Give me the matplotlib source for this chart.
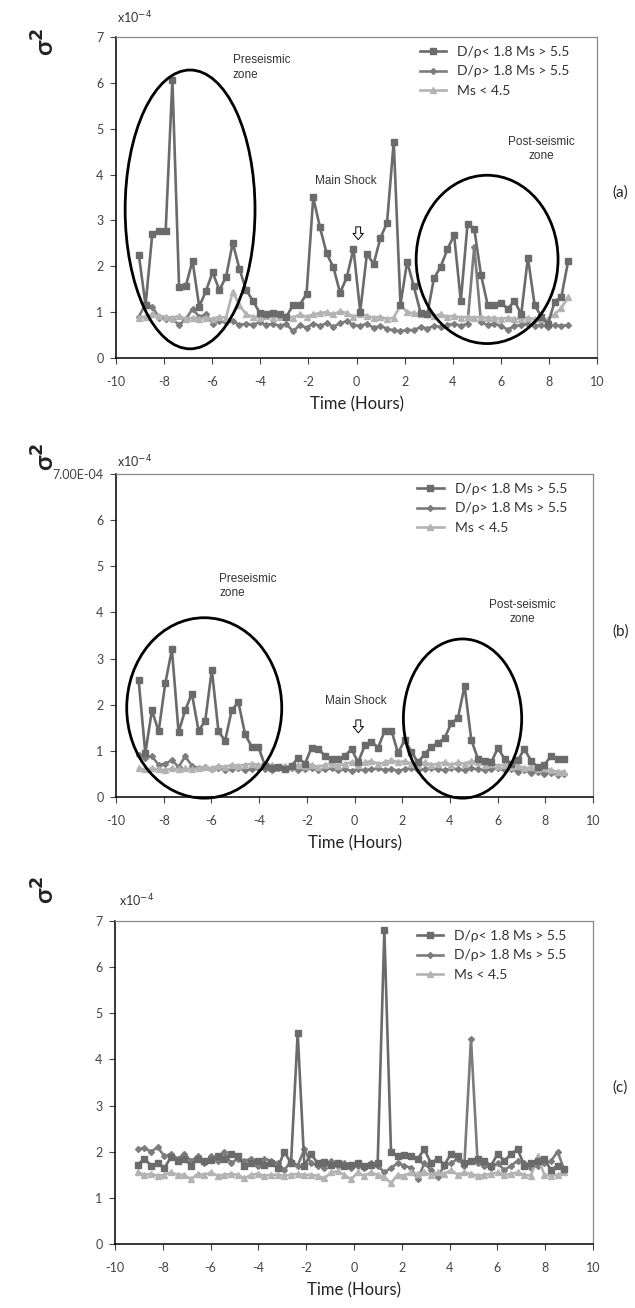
import numpy as np
import matplotlib
matplotlib.use("Agg")
import matplotlib.pyplot as plt
from matplotlib.patches import Ellipse

plt.rcParams['font.family'] = ['Lato', 'DejaVu Sans']
plt.rcParams['axes.unicode_minus'] = False

# time grid (hours relative to main shock)
hours = np.linspace(-9.05, 8.8, 65)

labels = ["D/\u03c1< 1.8 Ms > 5.5", "D/\u03c1> 1.8 Ms > 5.5", "Ms < 4.5"]

# panel (a), values in units of 1e-4
a_low = [2.25, 1.15, 2.70, 2.78, 2.78, 6.06, 1.54, 1.57, 2.12, 1.12, 1.46, 1.87, 1.48,
         1.77, 2.51, 1.94, 1.48, 1.25, 0.99, 0.96, 0.99, 0.95, 0.90, 1.16, 1.16, 1.40,
         3.50, 2.85, 2.28, 1.98, 1.42, 1.76, 2.38, 1.01, 2.27, 2.05, 2.61, 2.95, 4.72,
         1.16, 2.10, 1.56, 0.99, 0.95, 1.74, 1.99, 2.37, 2.68, 1.24, 2.92, 2.82, 1.82,
         1.16, 1.16, 1.21, 1.07, 1.25, 0.95, 2.19, 1.16, 0.90, 0.75, 1.23, 1.34, 2.11]
a_high = [0.90, 1.18, 1.12, 0.88, 0.86, 0.85, 0.72, 0.85, 1.07, 0.90, 0.95, 0.75, 0.80,
          0.78, 0.80, 0.72, 0.75, 0.72, 0.78, 0.72, 0.75, 0.70, 0.74, 0.58, 0.72, 0.66,
          0.75, 0.70, 0.76, 0.68, 0.76, 0.80, 0.72, 0.70, 0.75, 0.66, 0.70, 0.64, 0.60,
          0.58, 0.62, 0.60, 0.68, 0.64, 0.70, 0.68, 0.72, 0.75, 0.70, 0.75, 2.43, 0.78,
          0.72, 0.75, 0.70, 0.62, 0.70, 0.72, 0.75, 0.70, 0.72, 0.68, 0.72, 0.70, 0.72]
a_small = [0.88, 0.90, 0.95, 0.92, 0.90, 0.88, 0.92, 0.85, 0.88, 0.85, 0.88, 0.85, 0.90,
           0.88, 1.45, 1.15, 0.95, 0.90, 0.88, 0.92, 0.88, 0.90, 0.92, 0.88, 0.95, 0.90,
           0.95, 0.98, 1.00, 0.95, 1.02, 0.98, 0.90, 0.95, 0.92, 0.88, 0.90, 0.85, 0.88,
           1.15, 1.00, 0.98, 0.95, 0.95, 0.92, 0.95, 0.90, 0.92, 0.88, 0.90, 0.88, 0.90,
           0.87, 0.88, 0.85, 0.88, 0.86, 0.85, 0.88, 0.85, 0.84, 0.85, 0.95, 1.10, 1.32]

# panel (b)
b_low = [2.53, 0.95, 1.88, 1.42, 2.46, 3.20, 1.41, 1.88, 2.24, 1.44, 1.64, 2.76, 1.42,
         1.22, 1.89, 2.05, 1.36, 1.09, 1.08, 0.68, 0.62, 0.65, 0.60, 0.68, 0.85, 0.72,
         1.07, 1.05, 0.89, 0.83, 0.82, 0.89, 1.04, 0.75, 1.12, 1.20, 1.07, 1.44, 1.44,
         0.95, 1.24, 0.98, 0.75, 0.93, 1.09, 1.17, 1.28, 1.60, 1.71, 2.41, 1.24, 0.83,
         0.78, 0.75, 1.06, 0.83, 0.72, 0.80, 1.04, 0.78, 0.65, 0.70, 0.89, 0.83, 0.82]
b_high = [0.90, 0.85, 0.88, 0.70, 0.72, 0.80, 0.65, 0.88, 0.68, 0.62, 0.65, 0.60, 0.62,
          0.58, 0.60, 0.62, 0.58, 0.60, 0.62, 0.60, 0.58, 0.62, 0.60, 0.62, 0.58, 0.60,
          0.62, 0.58, 0.60, 0.62, 0.58, 0.60, 0.57, 0.60, 0.58, 0.60, 0.62, 0.58, 0.60,
          0.57, 0.60, 0.62, 0.58, 0.60, 0.62, 0.60, 0.58, 0.62, 0.60, 0.58, 0.62, 0.60,
          0.58, 0.60, 0.62, 0.58, 0.60, 0.55, 0.58, 0.52, 0.55, 0.50, 0.52, 0.48, 0.50]
b_small = [0.62, 0.60, 0.62, 0.60, 0.58, 0.62, 0.60, 0.62, 0.60, 0.62, 0.65, 0.62, 0.68,
           0.65, 0.70, 0.68, 0.70, 0.72, 0.70, 0.68, 0.70, 0.65, 0.68, 0.65, 0.70, 0.68,
           0.70, 0.65, 0.70, 0.72, 0.68, 0.72, 0.75, 0.70, 0.75, 0.78, 0.72, 0.75, 0.80,
           0.75, 0.78, 0.72, 0.70, 0.75, 0.70, 0.72, 0.75, 0.70, 0.75, 0.72, 0.78, 0.75,
           0.70, 0.72, 0.68, 0.70, 0.65, 0.68, 0.62, 0.65, 0.60, 0.62, 0.58, 0.55, 0.55]

# panel (c)
c_low = [1.72, 1.85, 1.70, 1.75, 1.65, 1.88, 1.80, 1.85, 1.70, 1.85, 1.80, 1.82, 1.90,
         1.85, 1.95, 1.90, 1.70, 1.75, 1.80, 1.72, 1.75, 1.65, 2.00, 1.75, 4.58, 1.70,
         1.95, 1.75, 1.78, 1.72, 1.75, 1.70, 1.72, 1.75, 1.70, 1.72, 1.75, 6.80, 2.00,
         1.90, 1.92, 1.90, 1.85, 2.05, 1.75, 1.85, 1.72, 1.95, 1.90, 1.75, 1.80, 1.85,
         1.80, 1.70, 1.95, 1.80, 1.95, 2.05, 1.70, 1.75, 1.80, 1.85, 1.60, 1.70, 1.62]
c_high = [2.05, 2.08, 2.00, 2.10, 1.90, 1.95, 1.85, 1.95, 1.80, 1.90, 1.75, 1.90, 1.80,
          2.00, 1.75, 1.85, 1.80, 1.85, 1.70, 1.85, 1.80, 1.75, 1.60, 1.80, 1.70, 2.05,
          1.75, 1.70, 1.65, 1.80, 1.70, 1.75, 1.65, 1.70, 1.65, 1.75, 1.70, 1.55, 1.65,
          1.75, 1.70, 1.65, 1.40, 1.75, 1.60, 1.45, 1.70, 1.75, 1.85, 1.70, 4.45, 1.75,
          1.70, 1.65, 1.75, 1.60, 1.70, 1.80, 1.75, 1.65, 1.70, 1.75, 1.80, 2.00, 1.60]
c_small = [1.55, 1.50, 1.52, 1.48, 1.50, 1.55, 1.50, 1.50, 1.40, 1.52, 1.50, 1.55, 1.48,
           1.50, 1.52, 1.50, 1.42, 1.50, 1.52, 1.48, 1.50, 1.50, 1.48, 1.50, 1.52, 1.50,
           1.50, 1.48, 1.42, 1.55, 1.58, 1.50, 1.40, 1.55, 1.48, 1.55, 1.50, 1.45, 1.32,
           1.50, 1.48, 1.55, 1.52, 1.55, 1.50, 1.55, 1.52, 1.60, 1.50, 1.55, 1.52, 1.48,
           1.50, 1.52, 1.55, 1.50, 1.52, 1.55, 1.50, 1.48, 1.90, 1.50, 1.48, 1.50, 1.55]

W, H = 635, 1308


def box(left, top, right, bottom):
    return [left / W, 1 - bottom / H, (right - left) / W, (bottom - top) / H]


def draw_panel(ax, low, high, small, top_label="7"):
    ax.plot(hours, low, color='#6b6b6b', lw=1.9, marker='s', ms=4.5, label=labels[0], zorder=3)
    ax.plot(hours, high, color='#7c7c7c', lw=1.9, marker='D', ms=3, label=labels[1], zorder=2)
    ax.plot(hours, small, color='#b3b3b3', lw=1.9, marker='^', ms=4, label=labels[2], zorder=2)
    ax.set_xlim(-10, 10)
    ax.set_ylim(0, 7)
    ax.set_xticks(range(-10, 11, 2))
    ax.set_yticks(range(0, 8))
    ax.set_yticklabels([str(i) for i in range(7)] + [top_label])
    ax.tick_params(axis='both', direction='out', length=4, width=0.8, colors='#444444',
                   labelsize=9, pad=5)
    ax.tick_params(axis='x', pad=9)
    for s in ['left', 'bottom']:
        ax.spines[s].set_color('black')
        ax.spines[s].set_linewidth(1.1)
    for s in ['top', 'right']:
        ax.spines[s].set_color('#8a8a8a')
        ax.spines[s].set_linewidth(0.9)
    ax.set_xlabel("Time (Hours)", fontsize=12, color='#222222', labelpad=6)
    ax.legend(loc='upper left', bbox_to_anchor=(0.62, 0.99), frameon=False, fontsize=10,
              handlelength=1.9, handletextpad=0.8, labelspacing=0.55, borderaxespad=0,
              labelcolor='#333333')


def note(ax, x, y, txt, ha='left'):
    ax.text(x, y, txt, ha=ha, va='top', fontsize=8.5, color='#333333',
            family=['Liberation Sans', 'DejaVu Sans'], linespacing=1.25)


def ring(ax, cx, cy, w, h):
    ax.add_patch(Ellipse((cx, cy), w, h, fill=False, ec='black', lw=2, zorder=6, clip_on=False))


def shock_arrow(ax, x, y):
    ax.annotate('', xy=(x, y - 0.2), xytext=(x, y + 0.2),
                arrowprops=dict(arrowstyle='simple,head_length=0.45,head_width=0.75,tail_width=0.35',
                                fc='white', ec='black', lw=0.7))


fig = plt.figure(figsize=(W / 100, H / 100), dpi=100)

ax_a = fig.add_axes(box(116, 37, 597, 358))
ax_b = fig.add_axes(box(116, 474, 593, 797))
ax_c = fig.add_axes(box(115, 921, 593, 1244))

draw_panel(ax_a, a_low, a_high, a_small)
draw_panel(ax_b, b_low, b_high, b_small, top_label="7.00E-04")
draw_panel(ax_c, c_low, c_high, c_small)

# (a) annotations
ring(ax_a, -6.92, 3.24, 5.4, 6.08)
ring(ax_a, 5.43, 2.15, 5.9, 3.67)
note(ax_a, -5.15, 6.62, "Preseismic\nzone")
note(ax_a, -0.44, 4.0, "Main Shock", ha='center')
shock_arrow(ax_a, 0.07, 2.72)
note(ax_a, 7.7, 4.85, "Post-seismic\nzone", ha='center')

# (b) annotations
ring(ax_b, -6.3, 1.93, 6.5, 3.91)
ring(ax_b, 4.53, 1.7, 4.96, 3.45)
note(ax_b, -5.68, 4.85, "Preseismic\nzone")
note(ax_b, 0.04, 2.22, "Main Shock", ha='center')
shock_arrow(ax_b, 0.16, 1.53)
note(ax_b, 7.04, 4.3, "Post-seismic\nzone", ha='center')

# panel letters, sigma labels and scale factors
for ax, tag, ytag, ysig in [(ax_a, "(a)", 193, 42), (ax_b, "(b)", 632, 457), (ax_c, "(c)", 1088, 890)]:
    fig.text(612 / W, 1 - ytag / H, tag, fontsize=11, color='#222222', va='center')
    fig.text(45 / W, 1 - ysig / H, "\u03c3$^{\\mathbf{2}}$", fontsize=18, fontweight='bold',
             rotation=90, ha='center', va='center', color='#222222')

fig.text(117 / W, 1 - 18 / H, r"x10$^{-4}$", fontsize=9, color='#333333', va='center')
fig.text(117 / W, 1 - 462 / H, r"x10$^{-4}$", fontsize=9, color='#333333', va='center')
fig.text(119 / W, 1 - 901 / H, r"x10$^{-4}$", fontsize=9, color='#333333', va='center')

fig.savefig("out.png", dpi=100)
